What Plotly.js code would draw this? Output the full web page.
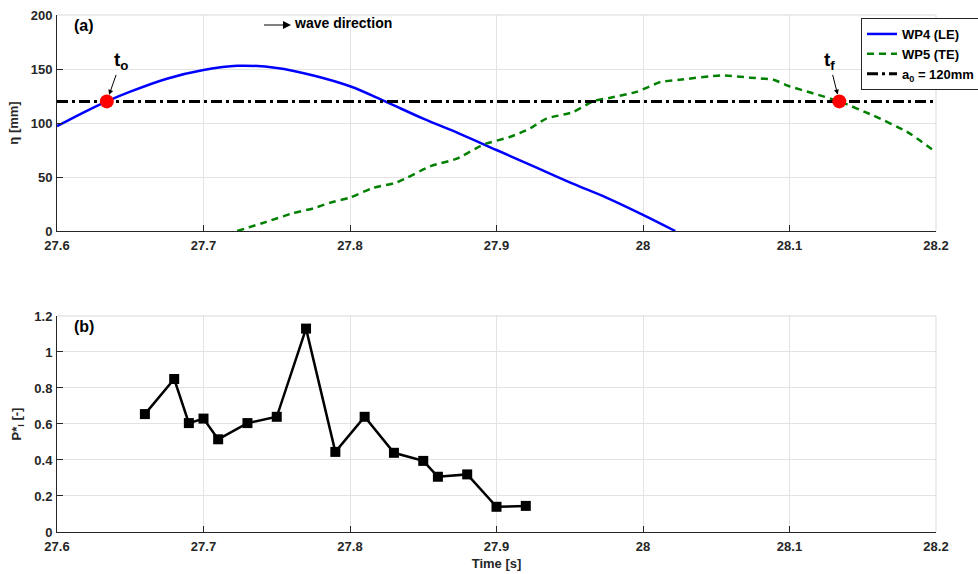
<!DOCTYPE html>
<html><head><meta charset="utf-8">
<script src="https://cdn.plot.ly/plotly-3.0.1.min.js"></script>
<style>html,body{margin:0;padding:0;background:#fff}#plot{width:978px;height:574px}</style>
</head><body><div id="plot"></div>
<script>
// ---- data ----
const wp4Time = [27.6, 27.62, 27.634, 27.65, 27.675, 27.7, 27.723, 27.75, 27.775, 27.8, 27.824, 27.85, 27.875, 27.9, 27.925, 27.95, 27.975, 28.0, 28.022];
const wp4Eta  = [97, 111, 120, 129, 141, 149, 153, 151, 144, 134, 120, 104, 90, 75, 60, 45, 31, 15, 0];
const wp5Time = [27.723, 27.743, 27.761, 27.775, 27.786, 27.8, 27.816, 27.832, 27.855, 27.873, 27.891, 27.909, 27.923, 27.934, 27.952, 27.966, 27.98, 27.996, 28.012, 28.025, 28.053, 28.073, 28.089, 28.1, 28.116, 28.134, 28.157, 28.18, 28.2];
const wp5Eta  = [0, 8.5, 16.5, 21, 26, 31, 40, 45, 60, 67, 80, 87, 95, 104, 110, 120, 124, 129, 138, 140, 144, 142, 140, 134, 127.5, 120, 107, 92, 73];
const a0Time = [27.6, 28.2];
const a0Eta = [120, 120];
const eventTime = [27.634, 28.134];
const eventEta = [120, 120];
const eventLabels = ['t<sub>o</sub>', 't<sub>f</sub>'];
const pTime = [27.66, 27.68, 27.69, 27.70, 27.71, 27.73, 27.75, 27.77, 27.79, 27.81, 27.83, 27.85, 27.86, 27.88, 27.90, 27.92];
const pStar = [0.655, 0.85, 0.605, 0.63, 0.515, 0.605, 0.64, 1.13, 0.445, 0.64, 0.44, 0.395, 0.307, 0.32, 0.14, 0.145];
const legendNames = ['WP4 (LE)', 'WP5 (TE)', 'a<sub>0</sub> = 120mm'];
const xTicks = [27.6, 27.7, 27.8, 27.9, 28.0, 28.1, 28.2];

const FONT = 'Liberation Sans, Arial, sans-serif';
const tickFont = {family: FONT, size: 13, color: '#262626', weight: 'bold'};

const traces = [
  {x: wp4Time, y: wp4Eta, type: 'scatter', mode: 'lines', name: legendNames[0],
   line: {color: '#0000ff', width: 2.5, shape: 'spline', smoothing: 1}, xaxis: 'x', yaxis: 'y'},
  {x: wp5Time, y: wp5Eta, type: 'scatter', mode: 'lines', name: legendNames[1],
   line: {color: '#008000', width: 2.5, dash: '7px,5px', shape: 'spline', smoothing: 0.6}, xaxis: 'x', yaxis: 'y'},
  {x: a0Time, y: a0Eta, type: 'scatter', mode: 'lines', name: legendNames[2],
   line: {color: '#000000', width: 3, dash: '11px,4px,3px,4px'}, xaxis: 'x', yaxis: 'y'},
  {x: eventTime, y: eventEta, type: 'scatter', mode: 'markers', showlegend: false,
   marker: {color: '#ff0000', size: 14}, xaxis: 'x', yaxis: 'y'},
  {x: pTime, y: pStar, type: 'scatter', mode: 'lines+markers', showlegend: false,
   line: {color: '#000000', width: 2.5}, marker: {symbol: 'square', size: 10, color: '#000000'},
   xaxis: 'x2', yaxis: 'y2'}
];

function xax(anchor, showTitle) {
  const a = {range: [27.6, 28.2], tickvals: xTicks, ticktext: xTicks.map(v => String(+v.toFixed(1))),
    ticks: 'inside', ticklen: 6, tickcolor: '#262626', showline: true, linecolor: '#262626', linewidth: 1,
    showgrid: true, gridcolor: '#e3e3e3', zeroline: false, tickfont: tickFont, anchor: anchor, ticklabelstandoff: 2};
  if (showTitle) { a.title = {text: 'Time [s]', font: {family: FONT, size: 13, color: '#262626', weight: 'bold'}, standoff: 6}; }
  return a;
}
function yax(anchor, domain, range, dtick, title) {
  return {domain: domain, range: range, dtick: dtick, tick0: 0, ticks: 'inside', ticklen: 6, tickcolor: '#262626',
    showline: true, linecolor: '#262626', linewidth: 1, showgrid: true, gridcolor: '#e3e3e3', zeroline: false,
    tickfont: tickFont, anchor: anchor, ticklabelstandoff: 1,
    title: {text: title, font: {family: FONT, size: 13, color: '#262626', weight: 'bold'}, standoff: 9}};
}

const layout = {
  width: 978, height: 574,
  margin: {l: 57, r: 42, t: 15, b: 42, autoexpand: false},
  paper_bgcolor: '#fff', plot_bgcolor: '#fff',
  font: {family: FONT},
  xaxis: xax('y', false),
  yaxis: yax('x', [0.5822, 1], [0, 200], 50, 'η [mm]'),
  xaxis2: xax('y2', true),
  yaxis2: yax('x2', [0, 0.4178], [0, 1.2], 0.2, 'P*<sub>I</sub> [-]'),
  showlegend: true,
  legend: {x: (861 - 57) / 879, y: (532 - 18) / 517, xanchor: 'left', yanchor: 'top', bgcolor: '#fff', bordercolor: '#262626', borderwidth: 1,
    font: {family: FONT, size: 13, color: '#000', weight: 'bold'}, tracegroupgap: 0, itemwidth: 30},
  shapes: [
    {type: 'line', xref: 'x domain', yref: 'y domain', x0: 0, x1: 1, y0: 1, y1: 1, line: {color: '#d9d9d9', width: 1}},
    {type: 'line', xref: 'x domain', yref: 'y domain', x0: 1, x1: 1, y0: 0, y1: 1, line: {color: '#d9d9d9', width: 1}},
    {type: 'line', xref: 'x2 domain', yref: 'y2 domain', x0: 0, x1: 1, y0: 1, y1: 1, line: {color: '#d9d9d9', width: 1}},
    {type: 'line', xref: 'x2 domain', yref: 'y2 domain', x0: 1, x1: 1, y0: 0, y1: 1, line: {color: '#d9d9d9', width: 1}}
  ],
  annotations: [
    {xref: 'x domain', yref: 'y domain', x: 0.017, y: 0.95, text: '(a)', showarrow: false, xanchor: 'left', yanchor: 'middle',
     font: {family: FONT, size: 16, color: '#000', weight: 'bold'}},
    {xref: 'x2 domain', yref: 'y2 domain', x: 0.017, y: 0.95, text: '(b)', showarrow: false, xanchor: 'left', yanchor: 'middle',
     font: {family: FONT, size: 16, color: '#000', weight: 'bold'}},
    {xref: 'x', yref: 'y', x: eventTime[0], y: eventEta[0], text: eventLabels[0], showarrow: true, arrowhead: 2, arrowsize: 1,
     arrowwidth: 1, arrowcolor: '#000', ax: 14, ay: -40, standoff: 7,
     font: {family: FONT, size: 19, color: '#000', weight: 'bold'}},
    {xref: 'x', yref: 'y', x: eventTime[1], y: eventEta[1], text: eventLabels[1], showarrow: true, arrowhead: 2, arrowsize: 1,
     arrowwidth: 1, arrowcolor: '#000', ax: -10, ay: -40, standoff: 7,
     font: {family: FONT, size: 19, color: '#000', weight: 'bold'}},
    {xref: 'paper', yref: 'paper', x: (291 - 57) / 879, y: (532 - 25) / 517, text: ' ', showarrow: true, arrowhead: 2,
     arrowsize: 1.6, arrowwidth: 1, arrowcolor: '#000', ax: -29, ay: 0, font: {size: 2}},
    {xref: 'paper', yref: 'paper', x: (292 - 57) / 879, y: (532 - 23) / 517, text: 'wave direction', showarrow: false,
     xanchor: 'left', yanchor: 'middle', font: {family: FONT, size: 14, color: '#000', weight: 'bold'}}
  ]
};

Plotly.newPlot('plot', traces, layout, {displayModeBar: false, staticPlot: true});
</script></body></html>
